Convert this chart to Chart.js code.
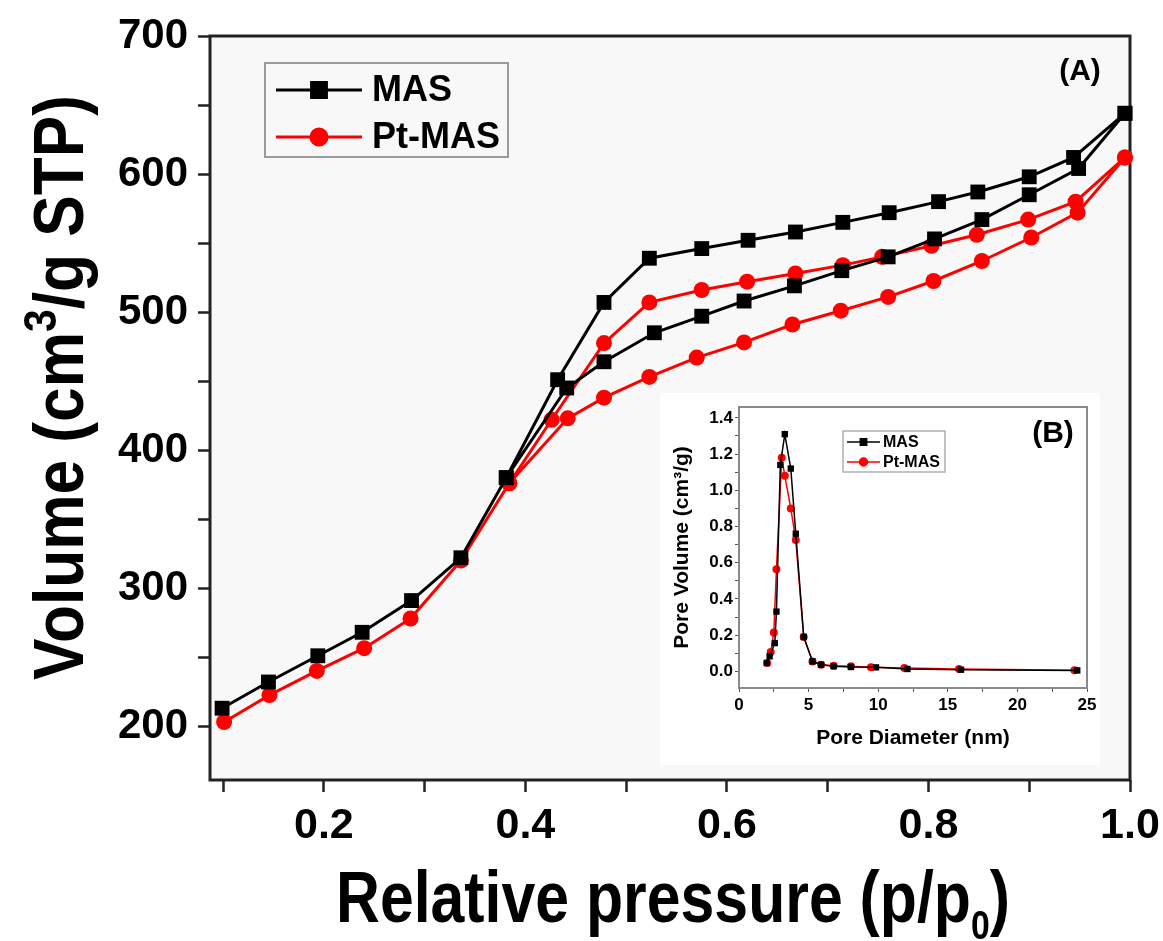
<!DOCTYPE html>
<html>
<head>
<meta charset="utf-8">
<script src="https://cdn.jsdelivr.net/npm/chart.js@4.4.1/dist/chart.umd.min.js"></script>
<style>
  body { margin: 0; background: #fff; }
  #wrap { position: relative; width: 1163px; height: 941px; }
  #main { position: absolute; left: 0; top: 0; }
  #inset { position: absolute; left: 660px; top: 393px; background: #fff; }
</style>
</head>
<body>
<div id="wrap">
  <canvas id="main" width="1163" height="941"></canvas>
  <canvas id="inset" width="440" height="372"></canvas>
</div>
<script>
// (A) N2 isotherm
const masAdsP = [0.099, 0.145, 0.194, 0.238, 0.287, 0.336, 0.381, 0.441, 0.478, 0.528, 0.575, 0.617, 0.667, 0.714, 0.760, 0.806, 0.853, 0.900, 0.949, 0.995];
const masAdsV = [213, 232, 251, 268, 291, 322, 380, 445, 464, 485, 497, 508, 519, 530, 540, 553, 567, 585, 604, 644];
const masDesP = [0.995, 0.944, 0.900, 0.849, 0.810, 0.761, 0.715, 0.668, 0.621, 0.575, 0.523, 0.478, 0.432, 0.381];
const masDesV = [644, 612, 598, 587, 580, 572, 565, 558, 552, 546, 539, 507, 451, 380];

const ptAdsP = [0.101, 0.146, 0.193, 0.240, 0.286, 0.336, 0.384, 0.442, 0.478, 0.523, 0.570, 0.617, 0.665, 0.713, 0.760, 0.805, 0.853, 0.902, 0.948, 0.995];
const ptAdsV = [203, 222.5, 240, 256.5, 278, 320, 376, 423, 438, 453, 467, 478, 491, 501, 511, 522.5, 537, 554, 572, 612];
const ptDesP = [0.995, 0.946, 0.899, 0.848, 0.803, 0.754, 0.715, 0.668, 0.620, 0.575, 0.523, 0.478, 0.426, 0.384];
const ptDesV = [612, 580, 567, 556, 548, 540, 534, 528, 522, 516, 507, 477.5, 422, 376];

const xTickVals = [0.1, 0.2, 0.3, 0.4, 0.5, 0.6, 0.7, 0.8, 0.9, 1.0];
const xTickLabels = ['', '0.2', '', '0.4', '', '0.6', '', '0.8', '', '1.0'];
const yTickVals = [200, 250, 300, 350, 400, 450, 500, 550, 600, 650, 700];
const yTickLabels = ['200', '', '300', '', '400', '', '500', '', '600', '', '700'];

// (B) pore size distribution
const masPoreD = [2.0, 2.2, 2.57, 2.69, 2.97, 3.29, 3.72, 4.08, 4.65, 5.28, 5.9, 6.8, 8.04, 9.84, 12.1, 15.95, 24.3];
const masPoreV = [0.046, 0.083, 0.156, 0.33, 1.14, 1.31, 1.12, 0.76, 0.19, 0.055, 0.037, 0.028, 0.024, 0.022, 0.013, 0.009, 0.005];
const ptPoreD = [2.02, 2.28, 2.5, 2.69, 3.07, 3.29, 3.72, 4.08, 4.65, 5.28, 5.9, 6.8, 8.04, 9.48, 11.88, 15.8, 24.1];
const ptPoreV = [0.046, 0.107, 0.215, 0.564, 1.18, 1.08, 0.9, 0.725, 0.19, 0.055, 0.037, 0.031, 0.028, 0.022, 0.018, 0.013, 0.006];

const bTickX = [0, 2.5, 5, 7.5, 10, 12.5, 15, 17.5, 20, 22.5, 25];
const bTickXLabels = ['0', '', '5', '', '10', '', '15', '', '20', '', '25'];
const bTickY = [0, 0.1, 0.2, 0.3, 0.4, 0.5, 0.6, 0.7, 0.8, 0.9, 1.0, 1.1, 1.2, 1.3, 1.4];
const bTickYLabels = ['0.0', '', '0.2', '', '0.4', '', '0.6', '', '0.8', '', '1.0', '', '1.2', '', '1.4'];

const FONT = '"Liberation Sans", Arial, sans-serif';

function loop(ax, ay, dx, dy) {
    let pts = ax.map((x, i) => ({x: x, y: ay[i]}));
    dx.forEach((x, i) => pts.push({x: x, y: dy[i]}));
    return pts;
}
function pairs(xs, ys) {
    return xs.map((x, i) => ({x: x, y: ys[i]}));
}

// text in pieces (for super/subscripts), squeezed to a given length
function drawParts(ctx, parts, len) {
    let total = 0;
    parts.forEach(p => {
        ctx.font = 'bold ' + p[1] + 'px ' + FONT;
        total += ctx.measureText(p[0]).width;
    });
    ctx.scale(len / total, 1);
    let x = 0;
    parts.forEach(p => {
        ctx.font = 'bold ' + p[1] + 'px ' + FONT;
        ctx.fillText(p[0], x, p[2]);
        x += ctx.measureText(p[0]).width;
    });
}

// frame around plot area + light background
const frame = {
    id: 'frame',
    beforeDatasetsDraw(chart, args, opts) {
        const a = chart.chartArea, ctx = chart.ctx;
        ctx.save();
        if (opts.bg) {
            ctx.fillStyle = opts.bg;
            ctx.fillRect(a.left, a.top, a.right - a.left, a.bottom - a.top);
        }
        ctx.strokeStyle = opts.color;
        ctx.lineWidth = opts.width;
        ctx.strokeRect(a.left, a.top, a.right - a.left, a.bottom - a.top);
        ctx.restore();
    }
};

// legend box drawn inside the plot
const boxLegend = {
    id: 'boxLegend',
    afterDraw(chart, args, o) {
        const ctx = chart.ctx;
        ctx.save();
        ctx.strokeStyle = o.boxColor;
        ctx.lineWidth = o.boxWidth;
        ctx.strokeRect(o.box[0], o.box[1], o.box[2], o.box[3]);
        chart.data.datasets.forEach((ds, i) => {
            const y = o.y0 + i * o.dy;
            ctx.strokeStyle = ds.borderColor;
            ctx.lineWidth = ds.borderWidth;
            ctx.beginPath();
            ctx.moveTo(o.x0, y);
            ctx.lineTo(o.x1, y);
            ctx.stroke();
            ctx.fillStyle = ds.backgroundColor;
            Chart.helpers.drawPoint(ctx, {pointStyle: ds.pointStyle, radius: ds.pointRadius, borderWidth: 1, rotation: 0}, (o.x0 + o.x1) / 2, y);
            ctx.fillStyle = '#000';
            ctx.font = o.font;
            ctx.textBaseline = 'middle';
            ctx.fillText(ds.label, o.tx, y + 1);
        });
        ctx.font = o.tagFont;
        ctx.textAlign = 'center';
        ctx.fillText(o.tag, o.tagX, o.tagY);
        ctx.restore();
    }
};

// big axis titles of (A), with superscript / subscript
const mainTitles = {
    id: 'mainTitles',
    afterDraw(chart) {
        const ctx = chart.ctx;
        ctx.save();
        ctx.fillStyle = '#000';
        ctx.textBaseline = 'alphabetic';
        ctx.translate(336, 922);
        drawParts(ctx, [['Relative pressure (p/p', 72, 0], ['0', 40, 17], [')', 72, 0]], 674);
        ctx.restore();

        ctx.save();
        ctx.fillStyle = '#000';
        ctx.textBaseline = 'alphabetic';
        ctx.translate(83, 680);
        ctx.rotate(-Math.PI / 2);
        drawParts(ctx, [['Volume (cm', 70, 0], ['3', 46, -27], ['/g STP)', 70, 0]], 585);
        ctx.restore();
    }
};

let mainChart = new Chart(document.getElementById('main'), {
    type: 'scatter',
    data: {
        datasets: [{
            label: 'MAS',
            data: loop(masAdsP, masAdsV, masDesP, masDesV),
            showLine: true,
            borderColor: '#000',
            backgroundColor: '#000',
            borderWidth: 3,
            pointStyle: 'rect',
            pointRadius: 10.5,
            pointBorderWidth: 0,
            clip: false
        }, {
            label: 'Pt-MAS',
            data: loop(ptAdsP, ptAdsV, ptDesP, ptDesV),
            showLine: true,
            borderColor: '#ff0000',
            backgroundColor: '#ff0000',
            borderWidth: 3,
            pointStyle: 'circle',
            pointRadius: 8,
            pointBorderWidth: 0,
            clip: false
        }]
    },
    options: {
        responsive: false,
        animation: false,
        layout: { padding: { top: 36, right: 33, left: 0, bottom: 0 } },
        plugins: {
            legend: { display: false },
            tooltip: { enabled: false },
            frame: { color: '#222', width: 3, bg: '#f8f8f8' },
            boxLegend: {
                box: [265, 63, 243, 94], boxColor: '#9a9a9a', boxWidth: 2,
                x0: 276, x1: 362, y0: 90, dy: 47, tx: 372,
                font: 'bold 36px ' + FONT,
                tag: '(A)', tagX: 1080, tagY: 72, tagFont: 'bold 30px ' + FONT
            }
        },
        scales: {
            x: {
                type: 'linear', min: 0.087, max: 1.0,
                afterBuildTicks: s => { s.ticks = xTickVals.map(v => ({value: v})); },
                afterFit: s => { s.height = 161; s.paddingRight = 0; },
                border: { display: false },
                grid: { drawOnChartArea: false, tickLength: 12, tickWidth: 2.5, tickColor: '#222' },
                ticks: {
                    autoSkip: false, maxRotation: 0, padding: 8, color: '#000',
                    font: { family: FONT, size: 43, weight: 'bold' },
                    callback: (v, i) => xTickLabels[i]
                }
            },
            y: {
                type: 'linear', min: 161, max: 700,
                afterBuildTicks: s => { s.ticks = yTickVals.map(v => ({value: v})); },
                afterFit: s => { s.width = 210; },
                border: { display: false },
                grid: { drawOnChartArea: false, tickLength: 12, tickWidth: 2.5, tickColor: '#222' },
                ticks: {
                    autoSkip: false, padding: 10, color: '#000',
                    font: { family: FONT, size: 42, weight: 'bold' },
                    callback: (v, i) => yTickLabels[i]
                }
            }
        }
    },
    plugins: [frame, boxLegend, mainTitles]
});

let insetChart = new Chart(document.getElementById('inset'), {
    type: 'scatter',
    data: {
        datasets: [{
            label: 'MAS',
            data: pairs(masPoreD, masPoreV),
            showLine: true,
            borderColor: '#000',
            backgroundColor: '#000',
            borderWidth: 1.5,
            pointStyle: 'rect',
            pointRadius: 4.5,
            pointBorderWidth: 0,
            clip: false
        }, {
            label: 'Pt-MAS',
            data: pairs(ptPoreD, ptPoreV),
            showLine: true,
            borderColor: '#ff0000',
            backgroundColor: '#ff0000',
            borderWidth: 1.5,
            pointStyle: 'circle',
            pointRadius: 4,
            pointBorderWidth: 0,
            clip: false
        }]
    },
    options: {
        responsive: false,
        animation: false,
        layout: { padding: { top: 14, right: 13, left: 0, bottom: 0 } },
        plugins: {
            legend: { display: false },
            tooltip: { enabled: false },
            frame: { color: '#8a8a8a', width: 2 },
            boxLegend: {
                box: [183, 38, 102, 41], boxColor: '#b0b0b0', boxWidth: 1.5,
                x0: 187, x1: 220, y0: 49, dy: 20, tx: 223,
                font: 'bold 16px ' + FONT,
                tag: '(B)', tagX: 393, tagY: 41, tagFont: 'bold 30px ' + FONT
            }
        },
        scales: {
            x: {
                type: 'linear', min: 0, max: 25,
                afterBuildTicks: s => { s.ticks = bTickX.map(v => ({value: v})); },
                afterFit: s => { s.height = 77; },
                border: { display: false },
                grid: { drawOnChartArea: false, tickLength: 4, tickWidth: 1, tickColor: '#555' },
                ticks: {
                    autoSkip: false, maxRotation: 0, padding: 3, color: '#000',
                    font: { family: FONT, size: 17, weight: 'bold' },
                    callback: (v, i) => bTickXLabels[i]
                },
                title: {
                    display: true, text: 'Pore Diameter (nm)', color: '#000',
                    font: { family: FONT, size: 21, weight: 'bold' },
                    padding: { top: 0, bottom: 14 }
                }
            },
            y: {
                type: 'linear', min: -0.092, max: 1.46,
                afterBuildTicks: s => { s.ticks = bTickY.map(v => ({value: v})); },
                afterFit: s => { s.width = 79; },
                border: { display: false },
                grid: { drawOnChartArea: false, tickLength: 4, tickWidth: 1, tickColor: '#555' },
                ticks: {
                    autoSkip: false, padding: 2, color: '#000',
                    font: { family: FONT, size: 17, weight: 'bold' },
                    callback: (v, i) => bTickYLabels[i]
                },
                title: {
                    display: true, text: 'Pore Volume (cm\u00b3/g)', color: '#000',
                    font: { family: FONT, size: 21, weight: 'bold' },
                    padding: { top: 10, bottom: 0 }
                }
            }
        }
    },
    plugins: [frame, boxLegend]
});
</script>
</body>
</html>
